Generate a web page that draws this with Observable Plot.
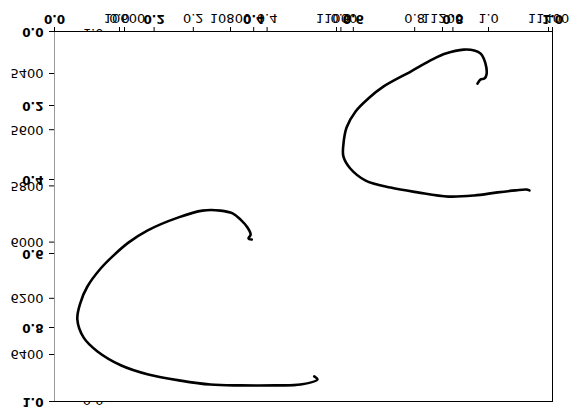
<!DOCTYPE html>
<html><head><meta charset="utf-8">
<script src="https://cdn.jsdelivr.net/npm/d3@7"></script>
<script src="https://cdn.jsdelivr.net/npm/@observablehq/plot@0.6"></script>
<style>
html,body{margin:0;padding:0;background:#fff;}
#chart{position:relative;width:578px;height:418px;transform:scaleY(-1);overflow:hidden;}
#chart svg{position:absolute;left:0;top:0;}
</style></head><body><div id="chart"></div>
<script>
// unit-axis ticks (outer bold frame axes and the inner hidden axes)
const unitTicks = [0, 0.2, 0.4, 0.6, 0.8, 1.0];
// data-axis ticks
const xTicks = [10600, 10800, 11000, 11200, 11400];
const yTicks = [5400, 5600, 5800, 6000, 6200, 6400];

// series A (upper-right loop)
const aX = [11266, 11272, 11279, 11283, 11281, 11272, 11260, 11240, 11206, 11181, 11140, 11089, 11060, 11036, 11019, 11013, 11013, 11026, 11055, 11102, 11153, 11211, 11260, 11304, 11338, 11358, 11364];
const aY = [5436, 5421, 5418, 5404, 5364, 5329, 5318, 5315, 5329, 5350, 5393, 5446, 5489, 5535, 5592, 5653, 5695, 5738, 5781, 5806, 5823, 5838, 5834, 5823, 5816, 5813, 5816];
// series B (lower-left loop)
const bX = [10840, 10834, 10838, 10832, 10819, 10804, 10781, 10747, 10702, 10643, 10608, 10579, 10555, 10530, 10517, 10511, 10523, 10549, 10594, 10645, 10706, 10762, 10819, 10885, 10932, 10964, 10958];
const bY = [5991, 5987, 5973, 5948, 5920, 5898, 5888, 5888, 5912, 5959, 6001, 6048, 6094, 6158, 6215, 6275, 6340, 6389, 6439, 6471, 6493, 6507, 6510, 6510, 6507, 6489, 6478];

const seriesA = aX.map((x, i) => ({x, y: aY[i]}));
const seriesB = bX.map((x, i) => ({x, y: bY[i]}));

const W = 578, H = 418;
const font = "DejaVu Sans";
const chart = document.getElementById("chart");

// bottom layer: inner unit axes (mostly covered by the data axes)
const inner = Plot.plot({
  width: W, height: H, marginLeft: 119, marginRight: 90, marginTop: 16, marginBottom: 32,
  style: {background: "transparent", fontFamily: font, fontSize: "13px", color: "black"},
  x: {domain: [0, 1]},
  y: {domain: [0, 1], range: [17, 384]},
  marks: [
    Plot.axisX(unitTicks, {tickSize: 5, tickPadding: 3, tickFormat: d => d.toFixed(1), label: null}),
    Plot.axisY(unitTicks, {tickSize: 6, tickPadding: 10, tickFormat: d => d.toFixed(1), label: null})
  ]
});

// middle layer: data axes with white background
const dataLayer = Plot.plot({
  width: W, height: H, marginLeft: 54, marginRight: 26, marginTop: 16, marginBottom: 32,
  style: {background: "transparent", fontFamily: font, fontSize: "13px", color: "black"},
  x: {domain: [10600, 11400], range: [124, 548]},
  y: {domain: [5400, 6400], range: [344, 63]},
  marks: [
    Plot.frame({fill: "white", stroke: "none"}),
    Plot.axisX(xTicks, {tickSize: 5, tickPadding: 3, tickFormat: d => String(d), label: null}),
    Plot.axisY(yTicks, {tickSize: 5, tickPadding: 6, tickFormat: d => String(d), label: null}),
    Plot.line(seriesA, {x: "x", y: "y", stroke: "black", strokeWidth: 2.6, curve: "catmull-rom"}),
    Plot.line(seriesB, {x: "x", y: "y", stroke: "black", strokeWidth: 2.6, curve: "catmull-rom"})
  ]
});

// top layer: bold unit frame axes
const outer = Plot.plot({
  width: W, height: H, marginLeft: 54, marginRight: 26, marginTop: 16, marginBottom: 32,
  style: {background: "transparent", fontFamily: font, fontSize: "12px", fontWeight: "bold", color: "black"},
  x: {domain: [0, 1]},
  y: {domain: [0, 1]},
  marks: [
    Plot.ruleX([0], {stroke: "#999"}),
    Plot.ruleX([1], {stroke: "black"}),
    Plot.ruleY([0, 1], {stroke: "black"}),
    Plot.axisX(unitTicks, {tickSize: 5, tickPadding: 3, tickFormat: d => d.toFixed(1), label: null}),
    Plot.axisY(unitTicks, {tickSize: 5, tickPadding: 6, tickFormat: d => d.toFixed(1), label: null})
  ]
});

chart.append(inner, dataLayer, outer);
</script>
</body></html>
